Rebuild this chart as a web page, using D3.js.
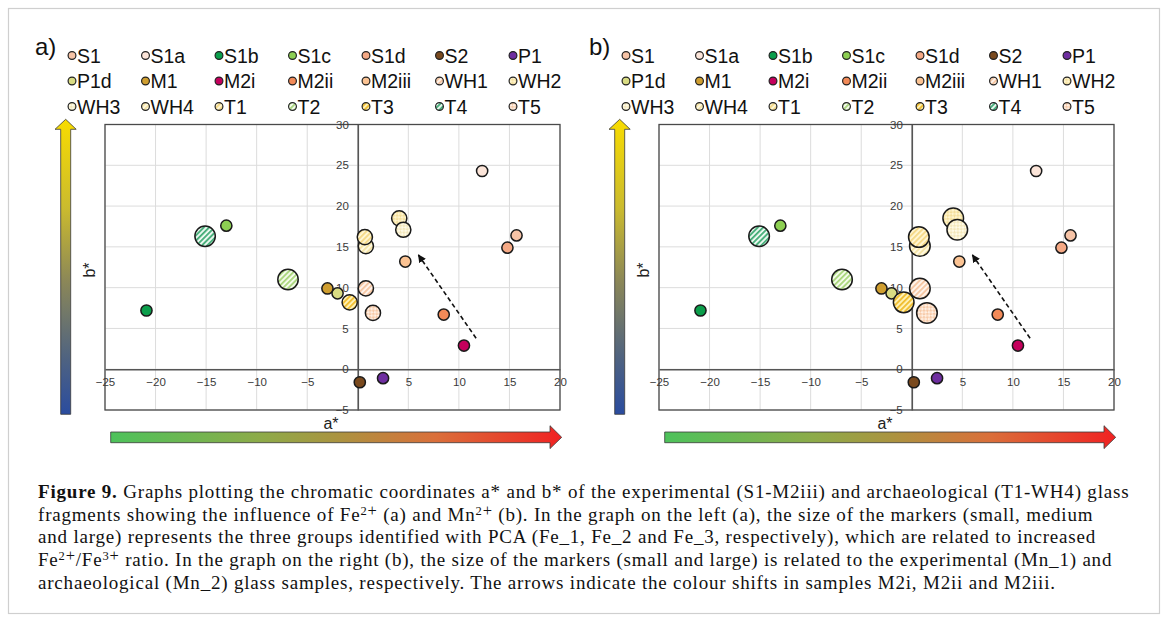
<!DOCTYPE html>
<html>
<head>
<meta charset="utf-8">
<script src="https://cdn.jsdelivr.net/npm/d3@7"></script>
<style>
  body { margin: 0; background: #fff; }
  svg { display: block; }
</style>
</head>
<body>
<svg id="fig" width="1168" height="623"></svg>
<script>
// Glass samples and their CIELab chromatic coordinates
const samples = ["S1", "S1a", "S1b", "S1c", "S1d", "S2", "P1",
                 "P1d", "M1", "M2i", "M2ii", "M2iii", "WH1", "WH2",
                 "WH3", "WH4", "T1", "T2", "T3", "T4", "T5"];
const aStar = [15.7, 12.3, -20.9, -13.0, 14.8, 0.2, 2.5,
               -2.0, -3.0, 10.5, 8.5, 4.7, 0.8, 4.1,
               4.5, 0.8, 0.7, -6.9, -0.8, -15.1, 1.5];
const bStar = [16.4, 24.3, 7.2, 17.6, 14.9, -1.6, -1.1,
               9.3, 9.9, 2.9, 6.7, 13.2, 9.9, 18.5,
               17.1, 15.1, 16.2, 11.0, 8.2, 16.3, 6.9];
// PCA iron groups (Fe_1, Fe_2, Fe_3) and manganese groups (Mn_1, Mn_2)
const feGroup = [1, 1, 1, 1, 1, 1, 1,
                 1, 1, 1, 1, 1, 2, 2,
                 2, 2, 2, 3, 2, 3, 2];
const mnGroup = [1, 1, 1, 1, 1, 1, 1,
                 1, 1, 1, 1, 1, 2, 2,
                 2, 2, 2, 2, 2, 2, 2];
const xTicks = [-25, -20, -15, -10, -5, 0, 5, 10, 15, 20];
const yTicks = [-5, 0, 5, 10, 15, 20, 25, 30];
// colour shift of M2i -> M2ii -> M2iii (a*, b*)
const shiftFrom = [11.7, 3.8];
const shiftTo = [6.0, 14.0];

const svg = d3.select("#fig");
const defs = svg.append("defs");

svg.append("rect").attr("width", 1168).attr("height", 623).attr("fill", "#fff");
svg.append("rect").attr("x", 8.5).attr("y", 8.5).attr("width", 1151).attr("height", 605)
  .attr("fill", "none").attr("stroke", "#cfcfcf").attr("stroke-width", 1.2);

// marker fills
function stripes(id, bg, fg, size, w) {
  const p = defs.append("pattern").attr("id", id).attr("patternUnits", "userSpaceOnUse")
    .attr("width", size).attr("height", size).attr("patternTransform", "rotate(45)");
  p.append("rect").attr("width", size).attr("height", size).attr("fill", bg);
  p.append("rect").attr("width", w).attr("height", size).attr("fill", fg);
}
function checks(id, bg, fg, size) {
  const p = defs.append("pattern").attr("id", id).attr("patternUnits", "userSpaceOnUse")
    .attr("width", size * 2).attr("height", size * 2).attr("patternTransform", "rotate(45)");
  p.append("rect").attr("width", size * 2).attr("height", size * 2).attr("fill", bg);
  p.append("rect").attr("width", size).attr("height", size).attr("fill", fg);
  p.append("rect").attr("x", size).attr("y", size).attr("width", size).attr("height", size).attr("fill", fg);
}
stripes("pT4", "#eaf7ef", "#43ad77", 3.8, 1.8);
stripes("pT2", "#f4fbea", "#a9d67c", 3.8, 1.8);
stripes("pT3", "#fff1b5", "#f0bd2e", 3.8, 1.8);
stripes("pT1", "#fff6d2", "#f5d987", 3.8, 1.8);
stripes("pWH1", "#fff3ea", "#f6c6a2", 3.8, 1.8);
stripes("pWH4", "#fff9e0", "#f5e4a6", 3.8, 1.8);
checks("pWH2", "#fff5cf", "#f4df9c", 2.4);
checks("pWH3", "#fffbe8", "#f3e7bb", 2.4);
checks("pT5", "#fff0e4", "#f7caa8", 2.4);

const fillOf = {
  S1: "#f6c3a6", S1a: "#fce5d9", S1b: "#0b9e4b", S1c: "#8dcf52", S1d: "#f5a985",
  S2: "#7a4a1e", P1: "#6e2ea0", P1d: "#d9dc83", M1: "#cf9e30", M2i: "#c4005c",
  M2ii: "#f28a58", M2iii: "#fbc393",
  WH1: "url(#pWH1)", WH2: "url(#pWH2)", WH3: "url(#pWH3)", WH4: "url(#pWH4)",
  T1: "url(#pT1)", T2: "url(#pT2)", T3: "url(#pT3)", T4: "url(#pT4)", T5: "url(#pT5)"
};

// colour-direction bars
const gY = defs.append("linearGradient").attr("id", "gradB").attr("x1", 0).attr("y1", 0).attr("x2", 0).attr("y2", 1);
[[0, "#f8dc00"], [0.3, "#cbbb2e"], [0.55, "#8b8758"], [0.8, "#51647f"], [1, "#2a4c9f"]]
  .forEach(([o, c]) => gY.append("stop").attr("offset", o).attr("stop-color", c));
const gX = defs.append("linearGradient").attr("id", "gradA").attr("x1", 0).attr("y1", 0).attr("x2", 1).attr("y2", 0);
[[0, "#4dc25b"], [0.33, "#8dab49"], [0.5, "#aa9440"], [0.72, "#da6f3a"], [1, "#f02222"]]
  .forEach(([o, c]) => gX.append("stop").attr("offset", o).attr("stop-color", c));

defs.append("marker").attr("id", "head").attr("viewBox", "0 0 10 10").attr("refX", 9).attr("refY", 5)
  .attr("markerWidth", 8).attr("markerHeight", 8).attr("markerUnits", "userSpaceOnUse").attr("orient", "auto")
  .append("path").attr("d", "M0,0 L10,5 L0,10 Z").attr("fill", "#111");

const panels = [
  { tag: "a)", dx: 0, groups: feGroup, radius: { 1: 5.6, 2: 7.6, 3: 10.2 } },
  { tag: "b)", dx: 554, groups: mnGroup, radius: { 1: 5.6, 2: 10.3 } }
];

const sans = "'Liberation Sans', Arial, sans-serif";

panels.forEach(pn => {
  const g = svg.append("g").attr("transform", `translate(${pn.dx},0)`);
  const x = d3.scaleLinear().domain([-25, 20]).range([105, 560]);
  const y = d3.scaleLinear().domain([-5, 30]).range([410, 124.5]);

  g.append("text").attr("x", 35).attr("y", 55).attr("font-family", sans).attr("font-size", 24)
    .attr("fill", "#111").text(pn.tag);

  // legend
  const leg = g.append("g");
  samples.forEach((s, i) => {
    const cx = 72 + (i % 7) * 73.5, cy = 55.5 + Math.floor(i / 7) * 25.5;
    leg.append("circle").attr("cx", cx).attr("cy", cy).attr("r", 3.9)
      .attr("fill", fillOf[s]).attr("stroke", "#222").attr("stroke-width", 1.2);
    leg.append("text").attr("x", cx + 5).attr("y", cy + 7.3).attr("font-family", sans)
      .attr("font-size", 19.5).attr("fill", "#111").text(s);
  });

  // grid
  g.append("g").selectAll("line").data(xTicks).join("line")
    .attr("x1", d => x(d)).attr("x2", d => x(d)).attr("y1", y(30)).attr("y2", y(-5))
    .attr("stroke", "#dcdcdc").attr("stroke-width", 1);
  g.append("g").selectAll("line").data(yTicks).join("line")
    .attr("y1", d => y(d)).attr("y2", d => y(d)).attr("x1", x(-25)).attr("x2", x(20))
    .attr("stroke", "#dcdcdc").attr("stroke-width", 1);
  g.append("rect").attr("x", x(-25)).attr("y", y(30)).attr("width", x(20) - x(-25)).attr("height", y(-5) - y(30))
    .attr("fill", "none").attr("stroke", "#4a4a4a").attr("stroke-width", 1.3);

  // axes through the origin
  const ax = g.append("g").attr("transform", `translate(0,${y(0)})`)
    .call(d3.axisBottom(x).tickValues(xTicks.filter(v => v !== 0)).tickSize(0).tickPadding(9));
  ax.select(".domain").attr("stroke", "#555").attr("stroke-width", 1.6);
  const ay = g.append("g").attr("transform", `translate(${x(0)},0)`)
    .call(d3.axisLeft(y).tickValues(yTicks).tickSize(0).tickPadding(9));
  ay.select(".domain").attr("stroke", "#555").attr("stroke-width", 1.6);
  [ax, ay].forEach(a => a.selectAll("text").attr("font-family", sans).attr("font-size", 11.5)
    .attr("fill", "#3a3a3a"));

  // axis titles
  g.append("text").attr("x", 331).attr("y", 429).attr("text-anchor", "middle")
    .attr("font-family", sans).attr("font-size", 16).attr("fill", "#222").text("a*");
  g.append("text").attr("transform", "translate(95,270) rotate(-90)").attr("text-anchor", "middle")
    .attr("font-family", sans).attr("font-size", 16).attr("fill", "#222").text("b*");

  // colour-direction arrows
  g.append("path").attr("d", "M60.7,414.3 V129.3 H55 L65.7,119.3 L76.2,129.3 H70.7 V414.3 Z")
    .attr("fill", "url(#gradB)").attr("stroke", "#3a3a3a").attr("stroke-width", 0.8);
  g.append("path").attr("d", "M110.7,432 H550 V425.7 L561.7,437.3 L550,448.6 V442.7 H110.7 Z")
    .attr("fill", "url(#gradA)").attr("stroke", "#3a3a3a").attr("stroke-width", 0.8);

  // colour shift arrow
  g.append("line").attr("x1", x(shiftFrom[0])).attr("y1", y(shiftFrom[1]))
    .attr("x2", x(shiftTo[0])).attr("y2", y(shiftTo[1]))
    .attr("stroke", "#111").attr("stroke-width", 1.6).attr("stroke-dasharray", "4.5,3")
    .attr("marker-end", "url(#head)");

  // samples
  g.append("g").selectAll("circle").data(samples).join("circle")
    .attr("cx", (d, i) => x(aStar[i])).attr("cy", (d, i) => y(bStar[i]))
    .attr("r", (d, i) => pn.radius[pn.groups[i]])
    .attr("fill", d => fillOf[d]).attr("stroke", "#1a1a1a").attr("stroke-width", 1.5);
});

// caption
const serif = "'Liberation Serif', 'Times New Roman', serif";
const captionLines = [
  [{ t: "Figure 9.", b: true }, { t: " Graphs plotting the chromatic coordinates a* and b* of the experimental (S1-M2iii) and archaeological (T1-WH4) glass" }],
  [{ t: "fragments showing the influence of Fe" }, { t: "2", s: 1 }, { t: "+", s: 2 }, { t: " (a) and Mn" }, { t: "2", s: 1 }, { t: "+", s: 2 },
   { t: " (b). In the graph on the left (a), the size of the markers (small, medium" }],
  [{ t: "and large) represents the three groups identified with PCA (Fe_1, Fe_2 and Fe_3, respectively), which are related to increased" }],
  [{ t: "Fe" }, { t: "2", s: 1 }, { t: "+", s: 2 }, { t: "/Fe" }, { t: "3", s: 1 }, { t: "+", s: 2 },
   { t: " ratio. In the graph on the right (b), the size of the markers (small and large) is related to the experimental (Mn_1) and" }],
  [{ t: "archaeological (Mn_2) glass samples, respectively. The arrows indicate the colour shifts in samples M2i, M2ii and M2iii." }]
];
captionLines.forEach((segs, li) => {
  const t = svg.append("text").attr("x", 38).attr("y", 498 + li * 22.7)
    .attr("font-family", serif).attr("font-size", 19).attr("letter-spacing", 0.8).attr("fill", "#111");
  segs.forEach(sg => {
    const ts = t.append("tspan").text(sg.t);
    if (sg.b) ts.attr("font-weight", "bold");
    if (sg.s === 1) ts.attr("font-size", 12.5).attr("baseline-shift", "6px");
    if (sg.s === 2) ts.attr("font-size", 16.5).attr("baseline-shift", "5px");
  });
});
</script>
</body>
</html>
